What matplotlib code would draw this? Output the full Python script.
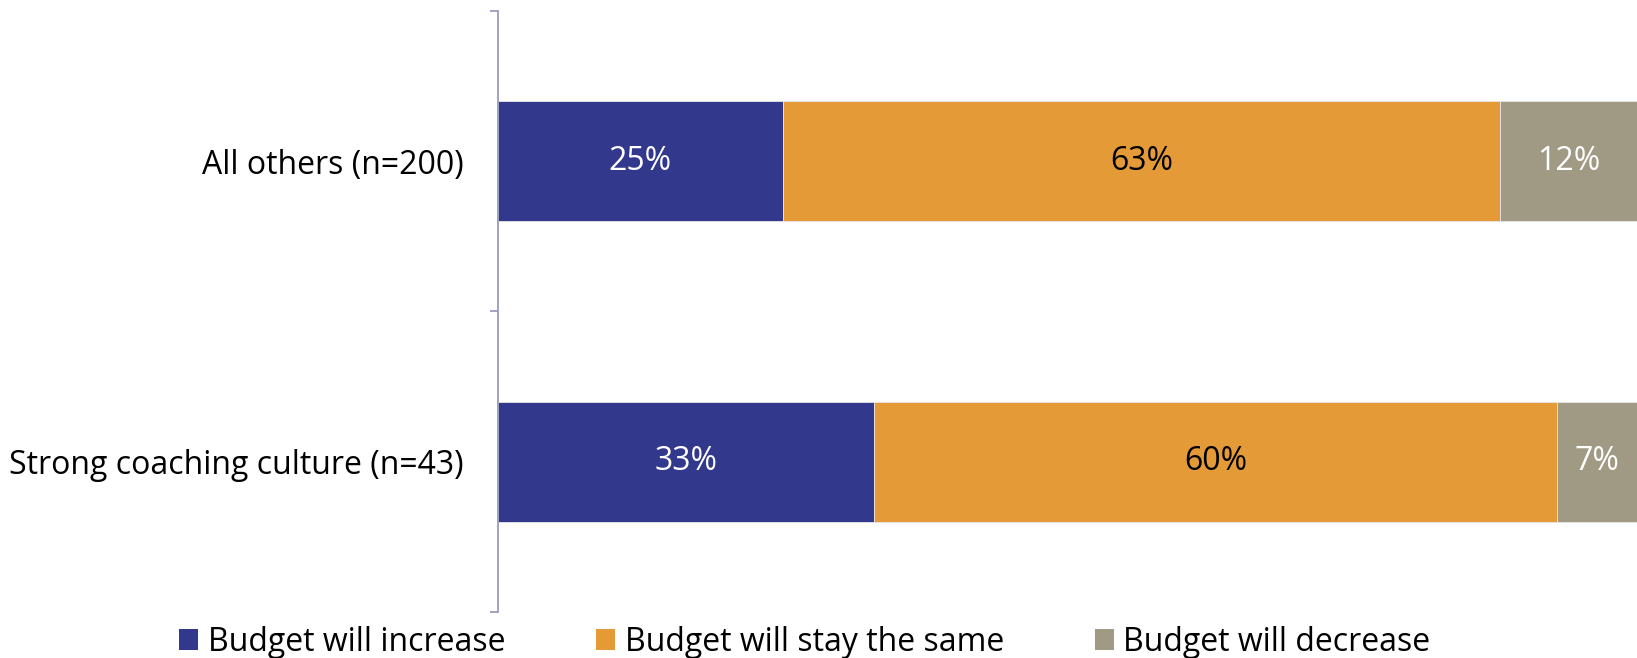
import matplotlib
matplotlib.use("Agg")
import matplotlib.pyplot as plt
from matplotlib.patches import Patch

plt.rcParams["font.family"] = ["Open Sans", "DejaVu Sans"]

# survey groups, bottom to top
groups = ["Strong coaching culture (n=43)", "All others (n=200)"]
increase = [33, 25]
same = [60, 63]
decrease = [7, 12]

series_names = ["Budget will increase", "Budget will stay the same", "Budget will decrease"]
colors = ["#32398c", "#e39a37", "#a09a84"]
text_colors = ["white", "black", "white"]

fig = plt.figure(figsize=(16.37, 6.58), dpi=100)
ax = fig.add_axes([0.3042, 0.0699, 0.6958, 0.9134])

ypos = list(range(len(groups)))
left = [0] * len(groups)
for vals, name, col, tcol in zip([increase, same, decrease], series_names, colors, text_colors):
    bars = ax.barh(ypos, vals, left=left, height=0.4, color=col, label=name,
                   edgecolor="#e6e6e6", linewidth=0.6)
    ax.bar_label(bars, labels=[f"{v}%" for v in vals], label_type="center",
                 color=tcol, fontsize=23)
    left = [a + b for a, b in zip(left, vals)]

ax.set_xlim(0, 100)
ax.set_ylim(-0.5, len(groups) - 0.5)

# ticks on the category boundaries, labels in the middle
ax.set_yticks([i - 0.5 for i in range(len(groups) + 1)])
ax.set_yticklabels([])
ax.set_yticks(ypos, minor=True)
ax.set_yticklabels(groups, minor=True, fontsize=23)
ax.tick_params(axis="y", which="major", length=6, width=1.3, color="#9a9abd")
ax.tick_params(axis="y", which="minor", length=0, pad=25)
ax.set_xticks([])

for side in ["top", "right", "bottom"]:
    ax.spines[side].set_visible(False)
ax.spines["left"].set_color("#9a9abd")
ax.spines["left"].set_linewidth(1.3)

handles = [Patch(facecolor=c, label=n) for c, n in zip(colors, series_names)]
fig.legend(handles=handles, loc="center left", bbox_to_anchor=(0.1093, 0.024), ncol=3,
           frameon=False, fontsize=23, handlelength=0.6, handleheight=0.6,
           handletextpad=0.3, columnspacing=2.84, borderpad=0, borderaxespad=0)

fig.savefig("out.png", dpi=100)
